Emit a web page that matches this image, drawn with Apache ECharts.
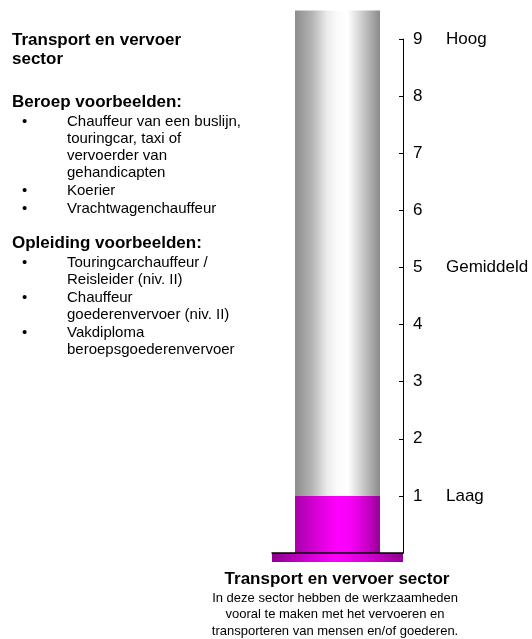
<!DOCTYPE html>
<html>
<head>
<meta charset="utf-8">
<script src="https://cdn.jsdelivr.net/npm/echarts@6/dist/echarts.min.js"></script>
<style>
  html, body { margin: 0; padding: 0; background: #fff; }
  #chart { width: 532px; height: 639px; }
</style>
</head>
<body>
<div id="chart"></div>
<script>
  // data
  const categories = ['Transport en vervoer sector'];
  const scoreValues = [1];
  const tubeHeight = [9.5];
  const levelValues = [1, 5, 9];
  const levelNames = ['Laag', 'Gemiddeld', 'Hoog'];

  const sectorTitle = ['Transport en vervoer', 'sector'];
  const beroepen = [
    ['Chauffeur van een buslijn,', 'touringcar, taxi of', 'vervoerder van', 'gehandicapten'],
    ['Koerier'],
    ['Vrachtwagenchauffeur'],
  ];
  const opleidingen = [
    ['Touringcarchauffeur /', 'Reisleider (niv. II)'],
    ['Chauffeur', 'goederenvervoer (niv. II)'],
    ['Vakdiploma', 'beroepsgoederenvervoer'],
  ];
  const footerLines = [
    'In deze sector hebben de werkzaamheden',
    'vooral te maken met het vervoeren en',
    'transporteren van mensen en/of goederen.',
  ];

  const FONT = '"Liberation Sans", Arial, sans-serif';
  const chart = echarts.init(document.getElementById('chart'));

  // left-hand text panel
  const textEls = [];
  const addText = (text, x, y, size, bold, align) => {
    textEls.push({
      type: 'text',
      x: x,
      y: y,
      style: {
        text: text,
        font: (bold ? 'bold ' : '') + size + 'px ' + FONT,
        fill: '#000',
        textAlign: align || 'left',
        textVerticalAlign: 'middle',
        align: align || 'left',
        verticalAlign: 'middle',
      },
    });
  };

  addText(sectorTitle[0], 12, 40, 17, true);
  addText(sectorTitle[1], 12, 59, 17, true);

  const LH = 17;
  const addList = (heading, items, y) => {
    addText(heading, 12, y, 17, true);
    y += 20;
    items.forEach((lines, i) => {
      if (i > 0) y += 1;
      addText('•', 22, y, 15, false);
      lines.forEach((line) => {
        addText(line, 67, y, 15, false);
        y += LH;
      });
    });
    return y;
  };
  addList('Beroep voorbeelden:', beroepen, 102);
  addList('Opleiding voorbeelden:', opleidingen, 243);

  // footer under the tube
  addText(categories[0], 337, 579, 17, true, 'center');
  footerLines.forEach((line, i) => addText(line, 335, 598 + i * 16.5, 13, false, 'center'));

  const grayTube = new echarts.graphic.LinearGradient(0, 0, 1, 0, [
    { offset: 0, color: '#8c8c8c' },
    { offset: 0.2, color: '#b4b4b4' },
    { offset: 0.38, color: '#ececec' },
    { offset: 0.5, color: '#fbfbfb' },
    { offset: 0.62, color: '#ffffff' },
    { offset: 0.78, color: '#cfcfcf' },
    { offset: 1, color: '#8a8a8a' },
  ]);
  const magentaTube = new echarts.graphic.LinearGradient(0, 0, 1, 0, [
    { offset: 0, color: '#a800a8' },
    { offset: 0.25, color: '#d600d6' },
    { offset: 0.5, color: '#ff00ff' },
    { offset: 0.65, color: '#f800f8' },
    { offset: 0.85, color: '#c800c8' },
    { offset: 1, color: '#960096' },
  ]);
  const floorFill = new echarts.graphic.LinearGradient(0, 0, 1, 0, [
    { offset: 0, color: '#8e008e' },
    { offset: 0.3, color: '#d800d8' },
    { offset: 0.5, color: '#ff00ff' },
    { offset: 0.75, color: '#d000d0' },
    { offset: 1, color: '#900090' },
  ]);

  // floor plate under the tube
  textEls.push({
    type: 'rect',
    z: 0,
    shape: { x: 272, y: 553, width: 131, height: 9 },
    style: { fill: floorFill },
  });

  const option = {
    animation: false,
    textStyle: { fontFamily: FONT },
    grid: {
      left: 272,
      right: 129,
      top: 39,
      bottom: 86,
    },
    xAxis: {
      type: 'category',
      data: categories,
      axisLine: { show: true, lineStyle: { color: '#000', width: 1.5 } },
      axisTick: { show: false },
      axisLabel: { show: false },
      splitLine: { show: false },
      z: 5,
    },
    yAxis: [
      {
        type: 'value',
        position: 'right',
        min: 0,
        max: 9,
        interval: 1,
        axisLine: { show: true, lineStyle: { color: '#000', width: 1 } },
        axisTick: { show: true, inside: true, length: 4, lineStyle: { color: '#000' } },
        axisLabel: {
          margin: 10,
          fontSize: 17,
          color: '#000',
          fontFamily: FONT,
          formatter: (v) => (v === 0 ? '' : String(v)),
        },
        splitLine: { show: false },
      },
      {
        type: 'value',
        position: 'right',
        offset: 43,
        min: 0,
        max: 9,
        interval: 1,
        axisLine: { show: false },
        axisTick: { show: false },
        axisLabel: {
          margin: 0,
          fontSize: 17,
          color: '#000',
          fontFamily: FONT,
          formatter: (v) => {
            const i = levelValues.indexOf(v);
            return i >= 0 ? levelNames[i] : '';
          },
        },
        splitLine: { show: false },
      },
    ],
    series: [
      {
        name: 'schaal',
        type: 'bar',
        data: tubeHeight,
        barWidth: 85,
        barGap: '-100%',
        clip: false,
        silent: true,
        itemStyle: { color: grayTube },
        z: 1,
      },
      {
        name: categories[0],
        type: 'bar',
        data: scoreValues,
        barWidth: 85,
        barGap: '-100%',
        itemStyle: { color: magentaTube },
        z: 2,
      },
    ],
    graphic: textEls,
  };

  chart.setOption(option);
</script>
</body>
</html>
